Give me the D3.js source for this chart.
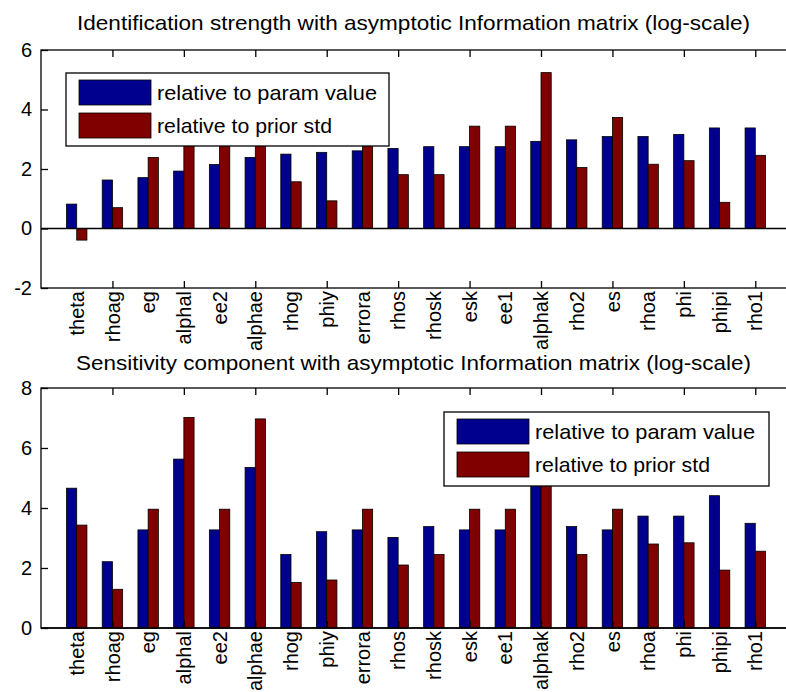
<!DOCTYPE html>
<html>
<head>
<meta charset="utf-8">
<script src="https://cdn.jsdelivr.net/npm/d3@7"></script>
<style>
html,body{margin:0;padding:0;background:#fff;}
svg{display:block;}
text{font-family:"Liberation Sans",Arial,sans-serif;fill:#000;}
</style>
</head>
<body>
<script>
const categories = ["theta","rhoag","eg","alphal","ee2","alphae","rhog","phiy","errora","rhos","rhosk","esk","ee1","alphak","rho2","es","rhoa","phi","phipi","rho1"];
const seriesNames = ["relative to param value","relative to prior std"];
// Top panel: Identification strength
const identParam = [0.82,1.63,1.71,1.93,2.15,2.39,2.50,2.56,2.61,2.69,2.75,2.75,2.75,2.93,2.98,3.09,3.09,3.16,3.38,3.38];
const identPrior = [-0.39,0.70,2.39,3.9,3.4,3.9,1.57,0.93,3.4,1.81,1.81,3.44,3.44,5.24,2.05,3.73,2.16,2.28,0.88,2.46];
// Bottom panel: Sensitivity component
const sensParam = [4.66,2.21,3.27,5.63,3.27,5.35,2.45,3.21,3.27,3.02,3.38,3.27,3.27,5.5,3.38,3.27,3.73,3.73,4.41,3.49];
const sensPrior = [3.43,1.29,3.96,7.02,3.96,6.97,1.52,1.60,3.96,2.10,2.45,3.96,3.96,6.9,2.45,3.96,2.80,2.84,1.93,2.56];
const titles = ["Identification strength with asymptotic Information matrix (log-scale)",
                "Sensitivity component with asymptotic Information matrix (log-scale)"];
const yTicksTop = [-2,0,2,4,6];
const yTicksBottom = [0,2,4,6,8];
const xTicks = [2,4,6,8,10,12,14,16,18,20];

const W = 786, H = 692;
const colors = ["#00008f","#800000"];
const svg = d3.select("body").append("svg").attr("width",W).attr("height",H);
svg.append("rect").attr("width",W).attr("height",H).attr("fill","#fff");

const x = d3.scaleLinear().domain([0, categories.length + 1]).range([41, 791]);
const step = x(1) - x(0);
const bw = step * 0.286;

function panel(cfg){
  const g = svg.append("g");
  const y = d3.scaleLinear().domain(cfg.ydom).range([cfg.bottom, cfg.top]);
  // title
  g.append("text").attr("x", cfg.titleX).attr("y", cfg.titleY)
    .attr("font-size", 21).attr("textLength", cfg.titleW).attr("lengthAdjust","spacingAndGlyphs")
    .text(cfg.title);
  // bars
  [cfg.a, cfg.b].forEach((vals, si) => {
    g.selectAll(null).data(vals).enter().append("rect")
      .attr("x", (d,i) => x(i+1) + (si === 0 ? -bw : 0))
      .attr("width", bw)
      .attr("y", d => Math.min(y(d), y(0)))
      .attr("height", d => Math.abs(y(d) - y(0)))
      .attr("fill", colors[si])
      .attr("stroke", "#000").attr("stroke-width", 0.8);
  });
  // zero line
  g.append("line").attr("x1", x(0)).attr("x2", x(categories.length+1))
    .attr("y1", y(0)).attr("y2", y(0)).attr("stroke","#000").attr("stroke-width",1.3);
  // axes
  const yAxis = d3.axisLeft(y).tickValues(cfg.yticks).tickSize(-7).tickPadding(9).tickFormat(d => String(d));
  const ya = g.append("g").attr("transform",`translate(${x(0)},0)`).call(yAxis);
  ya.select(".domain").remove();
  ya.selectAll("text").attr("font-size",20).attr("font-family","'Liberation Sans',Arial,sans-serif");
  ya.selectAll("line").attr("stroke-width",1.3);
  const xb = g.append("g").attr("transform",`translate(0,${cfg.bottom})`)
    .call(d3.axisBottom(x).tickValues(xTicks).tickSize(-7).tickFormat(""));
  xb.select(".domain").remove();
  xb.selectAll("line").attr("stroke-width",1.3);
  const xt = g.append("g").attr("transform",`translate(0,${cfg.top})`)
    .call(d3.axisTop(x).tickValues(xTicks).tickSize(-7).tickFormat(""));
  xt.select(".domain").remove();
  xt.selectAll("line").attr("stroke-width",1.3);
  g.append("rect").attr("x", x(0)).attr("y", cfg.top)
    .attr("width", x(categories.length+1) - x(0)).attr("height", cfg.bottom - cfg.top)
    .attr("fill","none").attr("stroke","#000").attr("stroke-width",1.3);
  // category labels (rotated)
  g.selectAll(null).data(categories).enter().append("text")
    .attr("transform",(d,i)=>`translate(${x(i+1)},${cfg.bottom+3}) rotate(-90)`)
    .attr("text-anchor","end").attr("dy","0.36em")
    .attr("font-size",20)
    .text(d=>d);
  // legend
  const L = cfg.legend;
  const lg = g.append("g");
  lg.append("rect").attr("x",L.x).attr("y",L.y).attr("width",L.w).attr("height",L.h)
    .attr("fill","#fff").attr("stroke","#000").attr("stroke-width",1.3);
  seriesNames.forEach((s,i)=>{
    const sy = L.y + 7 + i*33;
    lg.append("rect").attr("x",L.x+13).attr("y",sy).attr("width",72).attr("height",25)
      .attr("fill",colors[i]).attr("stroke","#000").attr("stroke-width",0.8);
    lg.append("text").attr("x",L.x+91).attr("y",sy+12.5).attr("dy","0.36em")
      .attr("font-size",21).attr("textLength", i===0?220:175).attr("lengthAdjust","spacingAndGlyphs").text(s);
  });
}

panel({title:titles[0], titleX:77, titleY:30, titleW:673, ydom:[-2,6], top:50, bottom:288,
  a:identParam, b:identPrior, yticks:yTicksTop, legend:{x:66,y:73,w:323,h:73}});
panel({title:titles[1], titleX:76, titleY:370, titleW:675, ydom:[0,8], top:388, bottom:628,
  a:sensParam, b:sensPrior, yticks:yTicksBottom, legend:{x:444,y:412,w:325,h:74}});
</script>
</body>
</html>
